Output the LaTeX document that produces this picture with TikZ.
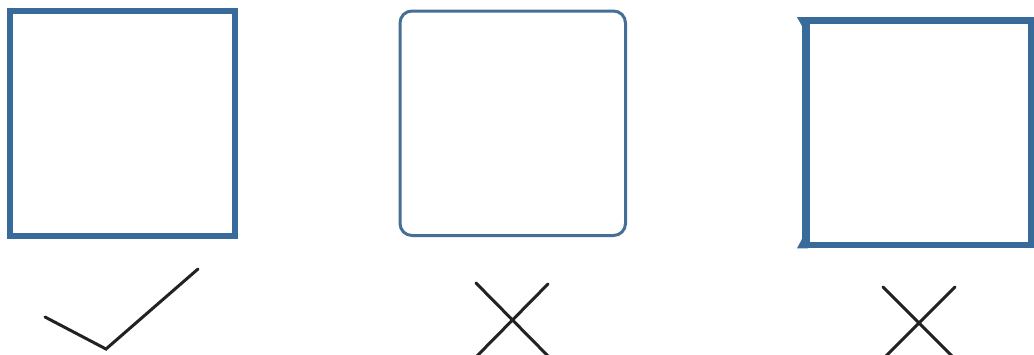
\documentclass[tikz,border=0pt]{standalone}
\definecolor{boxblue}{HTML}{386A9A}
\definecolor{boxblue2}{HTML}{466F95}
\definecolor{markgray}{HTML}{222222}
\tikzset{
  frameA/.style={draw=boxblue, line width=6pt},
  frameB/.style={draw=boxblue2, line width=3pt, rounded corners=12pt},
  frameC/.style={draw=boxblue, line width=6.5pt},
  markline/.style={draw=markgray, line width=3pt, line cap=round, line join=miter}
}
\begin{document}
\begin{tikzpicture}[x=1pt,y=-1pt]
\useasboundingbox (0,0) rectangle (1034,354);
% square 1
\draw[frameA] (10,11) rectangle (234.5,236);
% square 2 (rounded)
\draw[frameB] (400,11) rectangle (625.5,235.5);
% square 3 with flared left corners
\draw[frameC] (806,20.5) rectangle (1031,245);
\draw[draw=boxblue, line width=8pt] (806,17.5) -- (806,248);
\fill[boxblue] (797,17.2) -- (808,17.2) -- (808,25) -- (802,26) -- cycle;
\fill[boxblue] (797,248.3) -- (808,248.3) -- (808,240) -- (802,239) -- cycle;
% check mark
\coordinate (c1) at (45,317);
\coordinate (c2) at (106,349);
\coordinate (c3) at (198,269);
\draw[markline] (c1) -- (c2) -- (c3);
% cross 1
\coordinate (x1a) at (476,283);
\coordinate (x1b) at (548,356);
\coordinate (x1c) at (548,284);
\coordinate (x1d) at (476,357);
\draw[markline] (x1a) -- (x1b);
\draw[markline] (x1c) -- (x1d);
% cross 2
\coordinate (x2a) at (883,287);
\coordinate (x2b) at (955,359);
\coordinate (x2c) at (955,287);
\coordinate (x2d) at (883,359);
\draw[markline] (x2a) -- (x2b);
\draw[markline] (x2c) -- (x2d);
\end{tikzpicture}
\end{document}
